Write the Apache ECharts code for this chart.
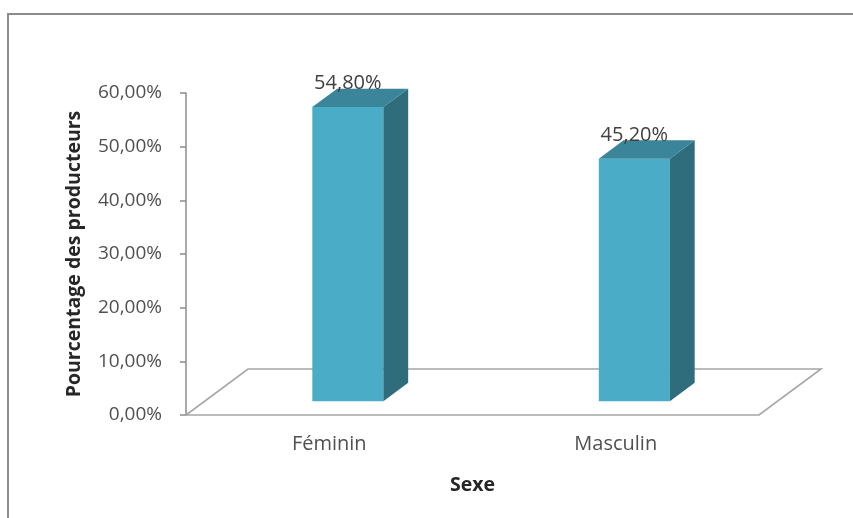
<!DOCTYPE html>
<html>
<head>
<meta charset="utf-8">
<script src="https://cdn.jsdelivr.net/npm/echarts@6/dist/echarts.min.js"></script>
<style>
  html, body { margin: 0; padding: 0; background: #fff; }
  #chart { width: 853px; height: 518px; }
</style>
</head>
<body>
<div id="chart"></div>
<script>
const categories = ['Féminin', 'Masculin']
const values = [54.8, 45.2]
const valueLabels = ['54,80%', '45,20%']
const yTicks = [0, 10, 20, 30, 40, 50, 60]
const yTickLabels = ['0,00%', '10,00%', '20,00%', '30,00%', '40,00%', '50,00%', '60,00%']

const font = '"Open Sans", sans-serif'
const depthX = 62   // floor depth (pseudo 3d)
const depthY = 46

const chart = echarts.init(document.getElementById('chart'))

function renderFloor(params, api) {
    const cs = params.coordSys
    const x0 = cs.x, x1 = cs.x + cs.width, y0 = cs.y + cs.height
    return {
        type: 'polygon',
        shape: {
            points: [[x0, y0], [x1, y0], [x1 + depthX, y0 - depthY], [x0 + depthX, y0 - depthY]]
        },
        style: { fill: '#fff', stroke: '#a6a6a6', lineWidth: 1.6 },
        z2: 0
    }
}

function renderBar(params, api) {
    const idx = api.value(0)
    const base = api.coord([idx, 0])
    const top = api.coord([idx, api.value(1)])
    const band = api.size([1, 0])[0]
    const w = band * 0.248
    const fx0 = base[0] + depthX * 0.3 - w / 2
    const fx1 = fx0 + w
    const fyB = base[1] - depthY * 0.3
    const fyT = top[1] - depthY * 0.3
    const sx = depthX * 0.4
    const sy = depthY * 0.4
    return {
        type: 'group',
        children: [
            {
                type: 'rect',
                shape: { x: fx0, y: fyT, width: w, height: fyB - fyT },
                style: { fill: '#4aacc6' }
            },
            {
                type: 'polygon',
                shape: { points: [[fx1, fyT], [fx1, fyB], [fx1 + sx, fyB - sy], [fx1 + sx, fyT - sy]] },
                style: { fill: '#2f6c7c' }
            },
            {
                type: 'polygon',
                shape: { points: [[fx0, fyT], [fx1, fyT], [fx1 + sx, fyT - sy], [fx0 + sx, fyT - sy]] },
                style: { fill: '#3a8599' }
            },
            {
                type: 'text',
                style: {
                    text: valueLabels[idx],
                    x: (fx0 + fx1) / 2,
                    y: fyT - sy + 5,
                    align: 'center',
                    verticalAlign: 'bottom',
                    font: '20px ' + font,
                    fill: '#404040'
                }
            }
        ]
    }
}

const option = {
    animation: false,
    backgroundColor: '#fff',
    graphic: [{
        type: 'rect',
        shape: { x: 8, y: 14, width: 900, height: 600 },
        style: { fill: 'none', stroke: '#8c8c8c', lineWidth: 2 },
        z: -1
    }],
    grid: {
        left: 186,
        right: 94,
        top: 93,
        bottom: 103
    },
    xAxis: {
        type: 'category',
        data: categories,
        name: 'Sexe',
        nameLocation: 'middle',
        nameGap: 60,
        nameTextStyle: { fontFamily: font, fontSize: 19.5, fontWeight: 'bold', color: '#262626' },
        axisLine: { show: false },
        axisTick: { show: false },
        axisLabel: { fontFamily: font, fontSize: 20, color: '#505050', margin: 19 }
    },
    yAxis: {
        type: 'value',
        min: 0,
        max: 60,
        interval: 10,
        name: 'Pourcentage des producteurs',
        nameLocation: 'middle',
        nameGap: 102,
        nameTextStyle: { fontFamily: font, fontSize: 19.5, fontWeight: 'bold', color: '#262626' },
        axisLine: { show: true, lineStyle: { color: '#8c8c8c', width: 1.5 } },
        axisTick: { show: true, length: 6, lineStyle: { color: '#8c8c8c', width: 1.5 } },
        axisLabel: {
            fontFamily: font,
            fontSize: 19,
            color: '#505050',
            margin: 24,
            formatter: v => yTickLabels[yTicks.indexOf(v)]
        },
        splitLine: { show: false }
    },
    series: [{
        type: 'custom',
        renderItem: renderFloor,
        data: [[0, 0]],
        z: 1,
        silent: true
    }, {
        type: 'custom',
        renderItem: renderBar,
        data: values.map((v, i) => [i, v]),
        encode: { x: 0, y: 1 },
        z: 2,
        clip: false
    }]
}

chart.setOption(option)
window.addEventListener('resize', function() {
    chart.resize()
})
</script>
</body>
</html>
